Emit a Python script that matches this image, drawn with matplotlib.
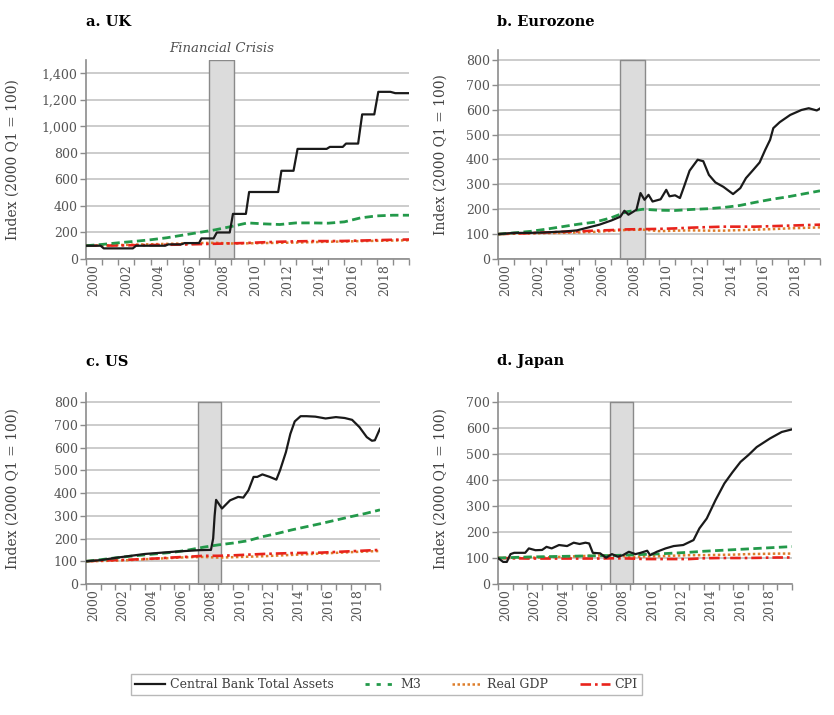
import matplotlib.pyplot as plt
import matplotlib.ticker as mticker

plt.rcParams['font.family'] = ['DejaVu Serif']

# ---- data (index, 2000 Q1 = 100) ----
years = [2000, 2001, 2002, 2003, 2004, 2005, 2006, 2007, 2008, 2009, 2010,
         2011, 2012, 2013, 2014, 2015, 2016, 2017, 2018, 2019, 2020]

# UK
uk_cb_x = [2000, 2000.9, 2001.1, 2002.9, 2003.1, 2004.9, 2005.1, 2005.9, 2006.1, 2007.0,
           2007.15, 2007.9, 2008.1, 2008.9, 2009.1, 2009.9, 2010.1, 2011.9, 2012.1, 2012.85,
           2013.1, 2014.9, 2015.1, 2015.9, 2016.1, 2016.85, 2017.1, 2017.85, 2018.1, 2018.85,
           2019.15, 2020.0]
uk_cb = [100, 100, 80, 80, 100, 100, 110, 110, 120, 120,
         155, 155, 200, 200, 340, 340, 505, 505, 665, 665,
         830, 830, 845, 845, 870, 870, 1090, 1090, 1260, 1260,
         1250, 1250]
uk_m3 = [100, 110, 122, 133, 145, 160, 180, 200, 220, 245, 272,
         265, 260, 272, 272, 270, 280, 310, 325, 330, 330]
uk_gdp = [100, 103, 105, 108, 111, 114, 117, 120, 122, 117, 118,
          120, 122, 124, 127, 130, 132, 135, 137, 139, 141]
uk_cpi = [100, 101, 102, 104, 105, 107, 109, 112, 115, 118, 121,
          126, 130, 133, 135, 135, 136, 139, 142, 145, 147]

# Eurozone
ez_cb_x = [2000, 2001, 2002, 2003, 2004.2, 2004.9, 2005.5, 2006.3, 2007.05, 2007.6,
           2007.85, 2008.1, 2008.6, 2008.85, 2009.1, 2009.35, 2009.6, 2010.1, 2010.45, 2010.65,
           2011.0, 2011.3, 2011.55, 2011.9, 2012.4, 2012.75, 2013.1, 2013.5, 2014.0, 2014.6,
           2015.05, 2015.4, 2015.85, 2016.25, 2016.6, 2016.9, 2017.1, 2017.5, 2018.15, 2018.85,
           2019.3, 2019.8, 2020.0]
ez_cb = [100, 105, 105, 107, 111, 115, 125, 138, 155, 170,
         194, 178, 198, 265, 238, 258, 231, 240, 278, 252,
         256, 245, 290, 355, 399, 393, 338, 308, 290, 261,
         285, 325, 358, 388, 439, 479, 526, 550, 579, 599,
         606, 597, 605]
ez_m3 = [100, 105, 111, 120, 130, 140, 148, 165, 190, 200, 196,
         195, 199, 202, 207, 215, 228, 240, 250, 262, 274]
ez_gdp = [100, 102, 103, 104, 105, 107, 109, 113, 117, 118, 112,
          114, 115, 114, 114, 116, 118, 120, 123, 125, 127]
ez_cpi = [100, 102, 104, 107, 109, 111, 114, 116, 119, 120, 121,
          123, 126, 128, 130, 130, 130, 132, 134, 136, 138]

# US
us_cb_x = [2000, 2001, 2002, 2004, 2006, 2007.75, 2008.5, 2008.65, 2008.75, 2008.85,
           2009.25, 2009.8, 2010.35, 2010.7, 2011.05, 2011.4, 2011.65, 2012.0, 2012.5, 2012.95,
           2013.2, 2013.6, 2013.9, 2014.2, 2014.6, 2015.0, 2015.6, 2016.3, 2017.0, 2017.6,
           2018.1, 2018.6, 2019.1, 2019.45, 2019.65, 2020.0]
us_cb = [100, 105, 115, 132, 142, 149, 150, 200, 300, 370,
         332, 368, 383, 380, 412, 471, 471, 482, 471, 459,
         500, 580, 660, 715, 738, 738, 736, 728, 734, 730,
         722, 690, 646, 630, 632, 683]
us_m3 = [100, 107, 115, 122, 128, 134, 140, 150, 162, 172, 180,
         190, 208, 222, 238, 252, 266, 281, 296, 310, 326]
us_gdp = [100, 101, 103, 105, 109, 112, 115, 118, 119, 116, 118,
          120, 122, 125, 128, 131, 134, 137, 140, 143, 145]
us_cpi = [100, 103, 105, 107, 110, 113, 117, 120, 124, 124, 126,
          129, 132, 134, 136, 137, 138, 141, 144, 147, 150]

# Japan
jp_cb_x = [2000, 2000.35, 2000.6, 2000.85, 2001.1, 2001.85, 2002.1, 2002.55, 2003.0, 2003.3,
           2003.65, 2004.15, 2004.7, 2005.15, 2005.55, 2005.95, 2006.2, 2006.45, 2006.95, 2007.35,
           2007.75, 2008.15, 2008.5, 2008.9, 2009.35, 2009.7, 2010.15, 2010.35, 2010.8, 2011.4,
           2011.95, 2012.6, 2013.3, 2013.7, 2014.2, 2014.8, 2015.4, 2015.95, 2016.5, 2017.05,
           2017.6, 2018.5, 2019.3, 2020.0]
jp_cb = [100, 85, 85, 115, 120, 120, 137, 130, 131, 143,
         137, 150, 146, 159, 154, 159, 156, 120, 118, 101,
         115, 105, 111, 124, 115, 120, 128, 111, 124, 137,
         146, 150, 169, 214, 252, 323, 387, 430, 470, 497,
         527, 560, 585, 595]
jp_m3 = [100, 102, 104, 105, 106, 107, 108, 109, 110, 112, 114,
         116, 119, 122, 126, 129, 132, 135, 138, 141, 144]
jp_gdp = [100, 100, 101, 102, 104, 106, 108, 110, 111, 104, 106,
          107, 109, 111, 111, 112, 113, 115, 116, 117, 117]
jp_cpi = [100, 99, 98, 98, 98, 98, 98, 98, 99, 98, 96,
          96, 96, 96, 99, 100, 100, 100, 101, 102, 102]

crisis_start, crisis_end = 2007.6, 2009.15
panel_titles = ['a. UK', 'b. Eurozone', 'c. US', 'd. Japan']
series_labels = ['Central Bank Total Assets', 'M3', 'Real GDP', 'CPI']

# ---- styling ----
BLACK = '#1a1a1a'
GREEN = '#23994a'
ORANGE = '#dd7d2a'
RED = '#e8231c'
GRID = '#c4c4c4'
AXIS = '#8c8c8c'
TEXT = '#555555'


def draw_panel(ax, cb_x, cb, m3, gdp, cpi, ymax, ystep, ytop, shade_top, label_x):
    '''Draws one country panel with the crisis band and the four series.'''
    ax.fill_between([crisis_start, crisis_end], 0, shade_top, facecolor='#dcdcdc',
                    edgecolor='#8a8a8a', linewidth=1.0, zorder=1)
    ax.plot(years, gdp, color=ORANGE, linestyle=(0, (1, 1)), linewidth=1.8, zorder=3)
    ax.plot(years, cpi, color=RED, linestyle=(0, (4, 1.5, 1, 1.5)), linewidth=1.9, zorder=3)
    ax.plot(years, m3, color=GREEN, linestyle=(0, (3, 1.6)), linewidth=2.0, zorder=4)
    ax.plot(cb_x, cb, color=BLACK, linewidth=1.6, zorder=5)

    ax.set_xlim(2000, 2020)
    ax.set_ylim(0, ytop)

    # year tick marks, labels centred in every second year
    ax.set_xticks(range(2000, 2021))
    ax.set_xticklabels([])
    label_pos = [y + 0.5 for y in range(2000, 2019, 2)]
    ax.set_xticks(label_pos, minor=True)
    ax.set_xticklabels([str(int(p)) for p in label_pos], minor=True, rotation=90)
    ax.tick_params(axis='x', which='major', length=4, width=1.0, color=AXIS)
    ax.tick_params(axis='x', which='minor', length=0, labelsize=9, labelcolor=TEXT, pad=4)

    ax.set_yticks(range(0, ymax + 1, ystep))
    ax.yaxis.set_major_formatter(mticker.FuncFormatter(lambda v, p: f'{int(v):,}'))
    ax.tick_params(axis='y', length=4, width=1.0, color=AXIS, labelsize=9, labelcolor=TEXT, pad=2)

    ax.grid(axis='y', color=GRID, linewidth=1.2, zorder=0)
    ax.set_axisbelow(True)
    for side in ['top', 'right']:
        ax.spines[side].set_visible(False)
    for side in ['left', 'bottom']:
        ax.spines[side].set_color(AXIS)
        ax.spines[side].set_linewidth(1.2)

    ax.set_ylabel('Index (2000 Q1 = 100)', fontsize=10, color='#404040')
    ax.yaxis.set_label_coords(label_x, 0.5)


fig = plt.figure(figsize=(8.34, 7.15), dpi=100)
W, H = 834, 715


def px_axes(left, top, right, bottom):
    '''Adds axes from pixel edges of the reference picture.'''
    return fig.add_axes([left / W, 1 - bottom / H, (right - left) / W, (bottom - top) / H])


ax_uk = px_axes(86, 60, 409, 259)
ax_ez = px_axes(498, 50, 820, 259)
ax_us = px_axes(86, 393, 380, 584)
ax_jp = px_axes(498, 393, 792, 584)

draw_panel(ax_uk, uk_cb_x, uk_cb, uk_m3, uk_gdp, uk_cpi, 1400, 200, 1500, 1500, -0.205)
draw_panel(ax_ez, ez_cb_x, ez_cb, ez_m3, ez_gdp, ez_cpi, 800, 100, 840, 800, -0.157)
draw_panel(ax_us, us_cb_x, us_cb, us_m3, us_gdp, us_cpi, 800, 100, 840, 800, -0.225)
draw_panel(ax_jp, jp_cb_x, jp_cb, jp_m3, jp_gdp, jp_cpi, 700, 100, 735, 700, -0.172)

# panel titles
fig.text(86 / W, 1 - 22.5 / H, panel_titles[0], fontsize=10.5, fontweight='bold', va='center')
fig.text(497 / W, 1 - 22.5 / H, panel_titles[1], fontsize=10.5, fontweight='bold', va='center')
fig.text(86 / W, 1 - 361.5 / H, panel_titles[2], fontsize=10.5, fontweight='bold', va='center')
fig.text(497 / W, 1 - 361.5 / H, panel_titles[3], fontsize=10.5, fontweight='bold', va='center')

fig.text(222 / W, 1 - 49 / H, 'Financial Crisis', fontsize=9.5, style='italic',
         color='#505050', ha='center', va='center')

# shared legend
handles = [
    plt.Line2D([], [], color=BLACK, linewidth=1.6),
    plt.Line2D([], [], color=GREEN, linestyle=(0, (1.5, 2.5)), linewidth=2.0),
    plt.Line2D([], [], color=ORANGE, linestyle=(0, (1, 1)), linewidth=1.8),
    plt.Line2D([], [], color=RED, linestyle=(0, (4, 1.5, 1, 1.5)), linewidth=1.9),
]
leg = fig.legend(handles, series_labels, loc='center', bbox_to_anchor=(386.5 / W, 1 - 684.5 / H),
                 ncol=4, fontsize=9, frameon=True, fancybox=False, handlelength=2.4,
                 handletextpad=0.4, columnspacing=2.5, borderpad=0.35)
leg.get_frame().set_edgecolor('#a6a6a6')
leg.get_frame().set_linewidth(1.0)
for t in leg.get_texts():
    t.set_color('#404040')

fig.savefig('out.png', dpi=100)
